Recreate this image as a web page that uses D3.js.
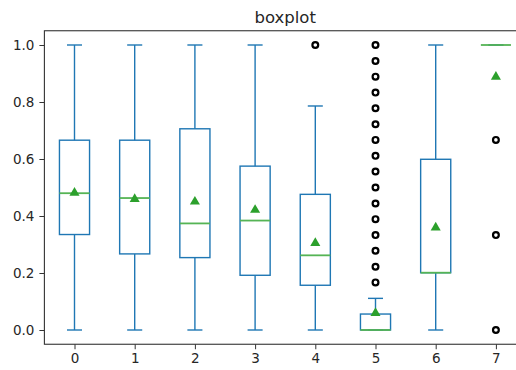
<!DOCTYPE html>
<html>
<head>
<meta charset="utf-8">
<script src="https://cdn.jsdelivr.net/npm/d3@7"></script>
<style>
  html, body { margin: 0; padding: 0; background: #fff; overflow: hidden; }
  svg { display: block; }
  text { font-family: "DejaVu Sans", sans-serif; fill: #262626; }
</style>
</head>
<body>
<svg id="chart" width="516" height="370"></svg>
<script>
const categories = ["0", "1", "2", "3", "4", "5", "6", "7"];
const whiskerLow  = [0, 0, 0, 0, 0, 0, 0, 1.0];
const q1          = [0.335, 0.267, 0.254, 0.192, 0.157, 0, 0.201, 1.0];
const medians     = [0.48, 0.463, 0.374, 0.384, 0.262, 0, 0.201, 1.0];
const q3          = [0.666, 0.666, 0.706, 0.575, 0.476, 0.056, 0.599, 1.0];
const whiskerHigh = [1.0, 1.0, 1.0, 1.0, 0.786, 0.111, 1.0, 1.0];
const means       = [0.484, 0.462, 0.453, 0.424, 0.308, 0.062, 0.362, 0.891];
const outliers = [
  [], [], [], [], [1.0],
  [0.167, 0.222, 0.278, 0.333, 0.389, 0.444, 0.5, 0.556, 0.611, 0.667, 0.722, 0.778, 0.833, 0.889, 0.944, 1.0],
  [],
  [0.667, 0.333, 0]
];
const yTicks = [0.0, 0.2, 0.4, 0.6, 0.8, 1.0];
const title = "boxplot";

const svg = d3.select("#chart");
const mLeft = 44.4, mRight = 526, mTop = 30.75, mBottom = 344.25;

const x = d3.scaleLinear().domain([-0.5, categories.length - 0.5]).range([mLeft, mRight]);
const y = d3.scaleLinear().domain([-0.05, 1.05]).range([mBottom, mTop]);
const boxHalf = (x(0.25) - x(0));
const capHalf = boxHalf / 2;

const blue = "#1f77b4", green = "#2ca02c", medGreen = "#55b455";

const data = categories.map((c, i) => ({
  c, i, lo: whiskerLow[i], q1: q1[i], med: medians[i], q3: q3[i], hi: whiskerHigh[i],
  mean: means[i], out: outliers[i]
}));

const g = svg.append("g");

const boxes = g.selectAll("g.box").data(data).enter().append("g").attr("class", "box");

// whiskers
boxes.append("line")
  .attr("x1", d => x(d.i)).attr("x2", d => x(d.i))
  .attr("y1", d => y(d.lo)).attr("y2", d => y(d.q1))
  .attr("stroke", blue).attr("stroke-width", 1.4);
boxes.append("line")
  .attr("x1", d => x(d.i)).attr("x2", d => x(d.i))
  .attr("y1", d => y(d.q3)).attr("y2", d => y(d.hi))
  .attr("stroke", blue).attr("stroke-width", 1.4);
// caps
boxes.append("line")
  .attr("x1", d => x(d.i) - capHalf).attr("x2", d => x(d.i) + capHalf)
  .attr("y1", d => y(d.lo)).attr("y2", d => y(d.lo))
  .attr("stroke", blue).attr("stroke-width", 1.4);
boxes.append("line")
  .attr("x1", d => x(d.i) - capHalf).attr("x2", d => x(d.i) + capHalf)
  .attr("y1", d => y(d.hi)).attr("y2", d => y(d.hi))
  .attr("stroke", blue).attr("stroke-width", 1.4);
// box
boxes.append("rect")
  .attr("x", d => x(d.i) - boxHalf)
  .attr("width", 2 * boxHalf)
  .attr("y", d => y(d.q3))
  .attr("height", d => Math.max(0, y(d.q1) - y(d.q3)))
  .attr("fill", "none").attr("stroke", blue).attr("stroke-width", 1.4);
// median
boxes.append("line")
  .attr("x1", d => x(d.i) - boxHalf).attr("x2", d => x(d.i) + boxHalf)
  .attr("y1", d => y(d.med)).attr("y2", d => y(d.med))
  .attr("stroke", medGreen).attr("stroke-width", 1.8);
// means
const tri = d3.symbol().type(d3.symbolTriangle).size(44);
boxes.append("path")
  .attr("d", tri)
  .attr("transform", d => `translate(${x(d.i)},${y(d.mean) + 0.8})`)
  .attr("fill", green);
// outliers
boxes.each(function(d) {
  d3.select(this).selectAll("circle").data(d.out).enter().append("circle")
    .attr("cx", x(d.i)).attr("cy", v => y(v)).attr("r", 2.9)
    .attr("fill", "#fff").attr("stroke", "#000").attr("stroke-width", 2.2);
});

// axes
const xAxis = d3.axisBottom(x).tickValues(categories.map((c, i) => i))
  .tickFormat(i => categories[i]).tickSizeOuter(0).tickSize(5).tickPadding(4);
const yAxis = d3.axisLeft(y).tickValues(yTicks)
  .tickFormat(d3.format(".1f")).tickSizeOuter(0).tickSize(5).tickPadding(5);

const gx = svg.append("g").attr("transform", `translate(0,${mBottom})`).call(xAxis);
const gy = svg.append("g").attr("transform", `translate(${mLeft},0)`).call(yAxis);
[gx, gy].forEach(a => {
  a.select(".domain").remove();
  a.selectAll(".tick line").attr("stroke", "#333").attr("stroke-width", 1);
  a.selectAll(".tick text").style("font-size", "13.5px").attr("fill", "#262626")
    .style("font-family", "DejaVu Sans, sans-serif");
});

// spines
svg.append("rect")
  .attr("x", mLeft).attr("y", mTop)
  .attr("width", mRight - mLeft).attr("height", mBottom - mTop)
  .attr("fill", "none").attr("stroke", "#333").attr("stroke-width", 1.1);

svg.append("text")
  .attr("x", (mLeft + mRight) / 2).attr("y", 23)
  .attr("text-anchor", "middle")
  .style("font-size", "16.5px")
  .text(title);
</script>
</body>
</html>
